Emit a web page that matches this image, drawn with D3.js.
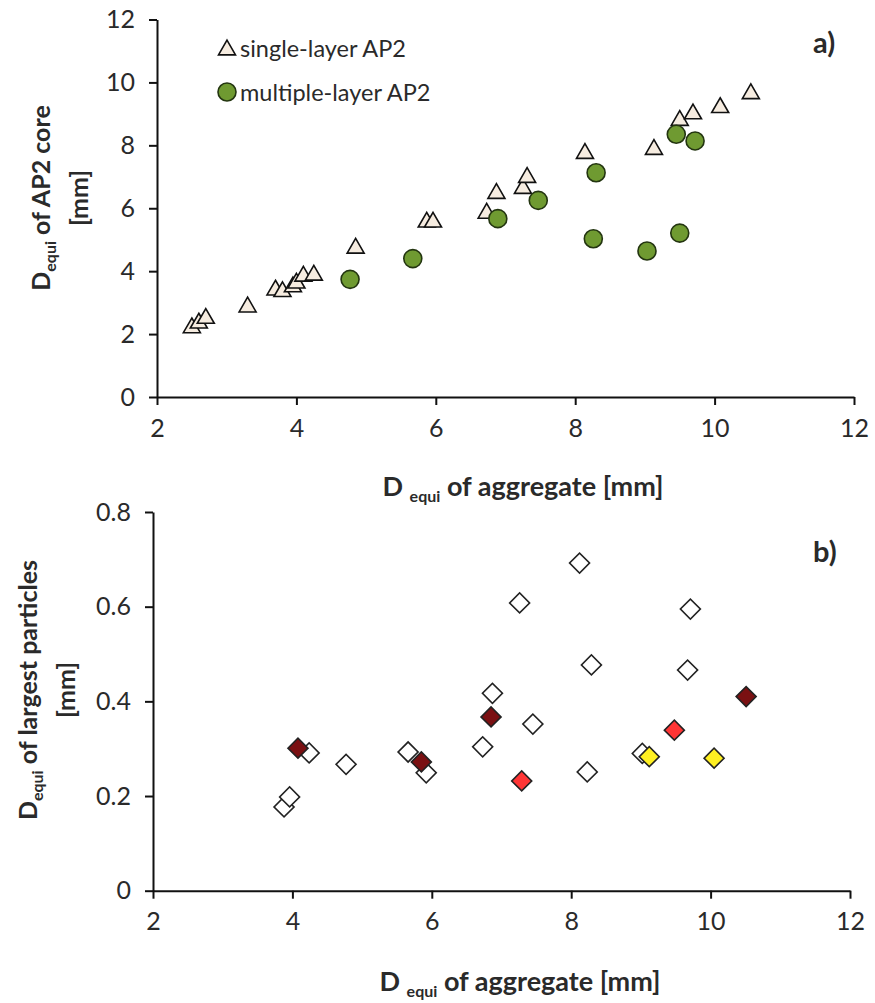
<!DOCTYPE html>
<html>
<head>
<meta charset="utf-8">
<script src="https://cdn.jsdelivr.net/npm/d3@7"></script>
<style>
  body { margin: 0; background: #fff; }
  svg text { font-family: Lato, "Open Sans", sans-serif; fill: #2a2a2a; }
</style>
</head>
<body>
<div id="chart"></div>
<script>
// panel a) data
var singleX = [2.5, 2.6, 2.7, 3.3, 3.7, 3.8, 3.95, 4.0, 4.1, 4.25, 4.85, 5.87, 5.96, 6.73, 6.87, 7.25, 7.31, 8.14, 9.13, 9.5, 9.69, 10.08, 10.52];
var singleY = [2.2, 2.35, 2.5, 2.86, 3.4, 3.35, 3.5, 3.62, 3.84, 3.87, 4.73, 5.56, 5.56, 5.84, 6.47, 6.63, 6.98, 7.74, 7.87, 8.79, 9.0, 9.2, 9.64];
var multiX = [4.77, 5.67, 6.89, 7.47, 8.3, 8.26, 9.03, 9.5, 9.45, 9.72];
var multiY = [3.74, 4.4, 5.67, 6.25, 7.13, 5.03, 4.64, 5.21, 8.35, 8.14];

// panel b) data, one fill group per array
var whiteX = [3.88, 3.96, 4.24, 4.77, 5.66, 5.92, 6.73, 6.87, 7.26, 7.45, 8.12, 8.29, 8.23, 9.02, 9.71, 9.67];
var whiteY = [0.177, 0.198, 0.291, 0.267, 0.293, 0.249, 0.304, 0.417, 0.608, 0.352, 0.692, 0.477, 0.251, 0.29, 0.595, 0.466];
var darkX = [4.08, 5.85, 6.85, 10.51];
var darkY = [0.301, 0.272, 0.367, 0.41];
var redX = [7.29, 9.48];
var redY = [0.232, 0.339];
var yellowX = [9.12, 10.05];
var yellowY = [0.283, 0.28];

var xTicks = [2, 4, 6, 8, 10, 12];
var yTicksA = [0, 2, 4, 6, 8, 10, 12];
var yTicksB = [0, 0.2, 0.4, 0.6, 0.8];

var svg = d3.select('#chart').append('svg')
  .attr('width', 875)
  .attr('height', 1003);

function zip(xs, ys) {
  return xs.map(function(x, i) { return { x: x, y: ys[i] }; });
}

function drawAxes(g, x, y, yTicks, yFmt) {
  var xa = g.append('g')
    .attr('transform', 'translate(0,' + y.range()[0] + ')')
    .call(d3.axisBottom(x).tickValues(xTicks).tickSize(8).tickSizeOuter(0).tickPadding(14));
  var ya = g.append('g')
    .attr('transform', 'translate(' + x.range()[0] + ',0)')
    .call(d3.axisLeft(y).tickValues(yTicks).tickFormat(yFmt).tickSize(8).tickSizeOuter(0).tickPadding(14));
  [xa, ya].forEach(function(a) {
    a.selectAll('path, line').attr('stroke', '#111').attr('stroke-width', 2);
    a.selectAll('text').style('font-size', '25px').attr('fill', '#2a2a2a');
  });
}

function xLabel(g, cx, yb) {
  var t = g.append('text')
    .attr('x', cx).attr('y', yb)
    .attr('text-anchor', 'middle')
    .style('font-weight', 'bold')
    .style('font-size', '27px');
  t.append('tspan').text('D ');
  t.append('tspan').attr('dy', 6).style('font-size', '16px').text('equi');
  t.append('tspan').attr('dy', -6).text(' of aggregate [mm]');
}

function yLabel(g, cx, cy, line1) {
  var t = g.append('text')
    .attr('transform', 'translate(' + cx + ',' + cy + ') rotate(-90)')
    .attr('text-anchor', 'middle')
    .style('font-weight', 'bold')
    .style('font-size', '25px');
  t.append('tspan').attr('x', 0).text('D');
  t.append('tspan').attr('dy', 6).style('font-size', '16px').text('equi');
  t.append('tspan').attr('dy', -6).text(' ' + line1);
  t.append('tspan').attr('x', 0).attr('dy', 38).text('[mm]');
}

// ---------- panel a ----------
var xa = d3.scaleLinear().domain([2, 12]).range([157, 854]);
var ya = d3.scaleLinear().domain([0, 12]).range([397, 19.5]);
var ga = svg.append('g');
drawAxes(ga, xa, ya, yTicksA, d3.format('d'));

var tri = d3.symbol().type(d3.symbolTriangle).size(125);
ga.append('g').selectAll('path')
  .data(zip(singleX, singleY))
  .enter().append('path')
  .attr('d', tri)
  .attr('transform', function(d) { return 'translate(' + xa(d.x) + ',' + ya(d.y) + ')'; })
  .attr('fill', '#f6ece0')
  .attr('stroke', '#111')
  .attr('stroke-width', 1.6);

ga.append('g').selectAll('circle')
  .data(zip(multiX, multiY))
  .enter().append('circle')
  .attr('cx', function(d) { return xa(d.x); })
  .attr('cy', function(d) { return ya(d.y); })
  .attr('r', 9)
  .attr('fill', '#6f9a31')
  .attr('stroke', '#233510')
  .attr('stroke-width', 1.6);

// legend
ga.append('path').attr('d', tri).attr('transform', 'translate(227,50)')
  .attr('fill', '#f6ece0').attr('stroke', '#111').attr('stroke-width', 1.6);
ga.append('text').attr('x', 240).attr('y', 57).style('font-size', '23.5px').text('single-layer AP2');
ga.append('circle').attr('cx', 227).attr('cy', 92).attr('r', 9)
  .attr('fill', '#6f9a31').attr('stroke', '#233510').attr('stroke-width', 1.6);
ga.append('text').attr('x', 240).attr('y', 101).style('font-size', '23.5px').text('multiple-layer AP2');

ga.append('text').attr('x', 813).attr('y', 53).style('font-size', '29px').style('font-weight', 'bold').text('a)');
xLabel(ga, 523, 496);
yLabel(ga, 50, 198, 'of AP2 core');

// ---------- panel b ----------
var xb = d3.scaleLinear().domain([2, 12]).range([153, 850]);
var yb = d3.scaleLinear().domain([0, 0.8]).range([890.7, 512]);
var gb = svg.append('g');
drawAxes(gb, xb, yb, yTicksB, function(d) { return d === 0 ? '0' : d3.format('.1f')(d); });

var dia = d3.symbol().type(d3.symbolSquare).size(200);
var groups = [
  { pts: zip(whiteX, whiteY), fill: '#ffffff' },
  { pts: zip(darkX, darkY), fill: '#7a1012' },
  { pts: zip(redX, redY), fill: '#ff3535' },
  { pts: zip(yellowX, yellowY), fill: '#fff022' }
];
groups.forEach(function(s) {
  gb.append('g').selectAll('path')
    .data(s.pts)
    .enter().append('path')
    .attr('d', dia)
    .attr('transform', function(d) { return 'translate(' + xb(d.x) + ',' + yb(d.y) + ') rotate(45)'; })
    .attr('fill', s.fill)
    .attr('stroke', '#222')
    .attr('stroke-width', 1.6);
});

gb.append('text').attr('x', 813).attr('y', 562).style('font-size', '29px').style('font-weight', 'bold').text('b)');
xLabel(gb, 520, 991);
yLabel(gb, 37, 690, 'of largest particles');
</script>
</body>
</html>
